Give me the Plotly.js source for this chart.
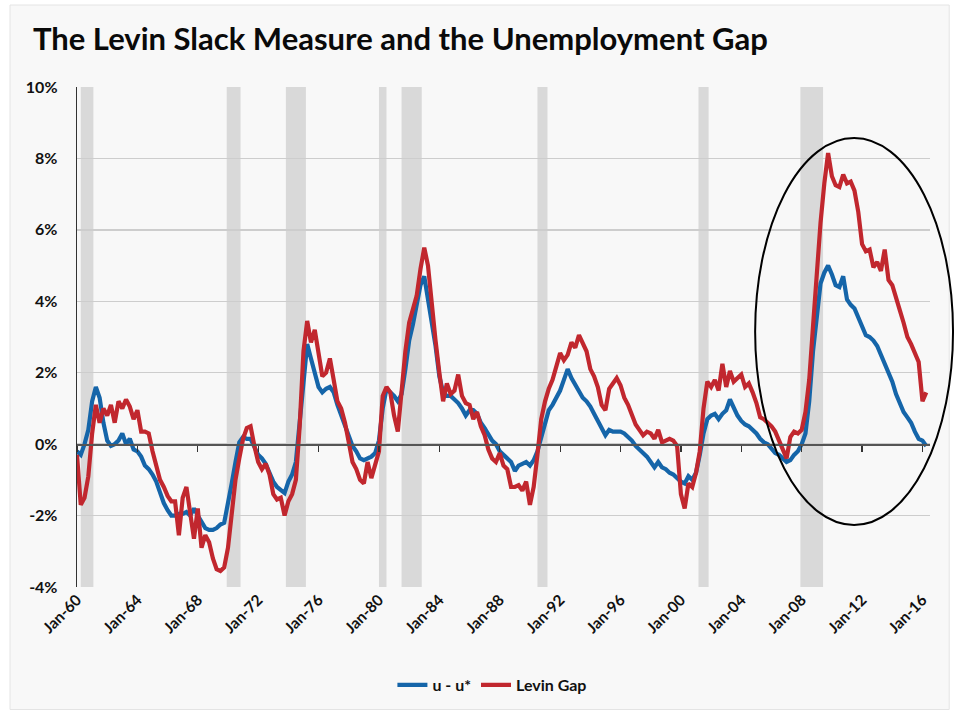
<!DOCTYPE html>
<html>
<head>
<meta charset="utf-8">
<script src="https://cdn.plot.ly/plotly-3.0.1.min.js"></script>
<style>
  html, body { margin: 0; padding: 0; background: #ffffff; }
  #chart { width: 956px; height: 714px; }
</style>
</head>
<body>
<div id="chart"></div>
<script>
// Quarterly observations, starting Jan-1960 (Jan, Apr, Jul, Oct of each year)
const startYear = 1960;

// u - u* (unemployment gap), percent
const uGap = [
  -0.2, -0.3, 0.0, 0.4,          // 1960
  1.2, 1.6, 1.3, 0.6,            // 1961
  0.1, -0.05, 0.0, 0.1,          // 1962
  0.3, 0.0, 0.15, -0.15,         // 1963
  -0.2, -0.35, -0.6, -0.7,       // 1964
  -0.85, -1.05, -1.35, -1.65,    // 1965
  -1.85, -2.0, -2.0, -1.95,      // 1966
  -1.95, -1.9, -2.0, -1.8,       // 1967
  -2.0, -2.15, -2.35, -2.4,      // 1968
  -2.4, -2.35, -2.25, -2.2,      // 1969
  -1.7, -1.1, -0.5, 0.05,        // 1970
  0.2, 0.15, 0.15, -0.05,        // 1971
  -0.3, -0.4, -0.55, -0.8,       // 1972
  -1.05, -1.2, -1.3, -1.37,      // 1973
  -1.05, -0.85, -0.5, 0.6,       // 1974
  2.0, 2.8, 2.4, 2.05,           // 1975
  1.6, 1.45, 1.55, 1.6,          // 1976
  1.45, 1.1, 0.8, 0.5,           // 1977
  0.2, -0.05, -0.2, -0.4,        // 1978
  -0.45, -0.4, -0.35, -0.25,     // 1979
  0.1, 1.0, 1.55, 1.45,          // 1980
  1.35, 1.2, 1.4, 2.1,           // 1981
  2.9, 3.35, 3.85, 4.45,         // 1982
  4.7, 4.1, 3.5, 2.75,           // 1983
  1.9, 1.45, 1.35, 1.35,         // 1984
  1.25, 1.15, 1.0, 0.8,          // 1985
  0.95, 0.95, 0.85, 0.6,         // 1986
  0.45, 0.3, 0.1, 0.0,           // 1987
  -0.2, -0.3, -0.4, -0.5,        // 1988
  -0.75, -0.6, -0.55, -0.5,      // 1989
  -0.6, -0.45, -0.2, 0.2,        // 1990
  0.6, 0.95, 1.1, 1.3,           // 1991
  1.5, 1.8, 2.1, 1.85,           // 1992
  1.65, 1.45, 1.3, 1.2,          // 1993
  1.05, 0.85, 0.65, 0.45,        // 1994
  0.25, 0.4, 0.35, 0.35,         // 1995
  0.35, 0.3, 0.2, 0.1,           // 1996
  -0.05, -0.15, -0.25, -0.35,    // 1997
  -0.5, -0.65, -0.5, -0.65,      // 1998
  -0.7, -0.8, -0.85, -0.95,      // 1999
  -1.05, -1.1, -0.9, -1.0,       // 2000
  -0.8, -0.3, 0.3, 0.7,          // 2001
  0.8, 0.85, 0.7, 0.85,          // 2002
  0.95, 1.25, 1.0, 0.8,          // 2003
  0.65, 0.55, 0.5, 0.4,          // 2004
  0.3, 0.15, 0.05, 0.0,          // 2005
  -0.15, -0.25, -0.3, -0.4,      // 2006
  -0.5, -0.45, -0.3, -0.2,       // 2007
  0.0, 0.3, 1.2, 2.6,            // 2008
  3.7, 4.5, 4.8, 5.0,            // 2009
  4.75, 4.45, 4.4, 4.7,          // 2010
  4.05, 3.9, 3.8, 3.55,          // 2011
  3.3, 3.05, 3.0, 2.9,           // 2012
  2.75, 2.5, 2.25, 2.0,          // 2013
  1.75, 1.4, 1.15, 0.9,          // 2014
  0.75, 0.6, 0.35, 0.15,         // 2015
  0.1, -0.05                     // 2016
];

// Levin Gap, percent
const levinGap = [
  -0.3, -1.7, -1.5, -0.9,        // 1960
  0.3, 1.1, 0.6, 1.0,            // 1961
  0.8, 1.1, 0.6, 1.2,            // 1962
  1.0, 1.25, 1.05, 0.7,          // 1963
  0.95, 0.35, 0.35, 0.3,         // 1964
  -0.2, -0.6, -1.0, -1.2,        // 1965
  -1.45, -1.6, -1.6, -2.55,      // 1966
  -1.5, -1.2, -2.0, -2.65,       // 1967
  -1.8, -2.9, -2.55, -2.75,      // 1968
  -3.2, -3.5, -3.55, -3.45,      // 1969
  -2.9, -1.9, -1.0, -0.4,        // 1970
  0.15, 0.45, 0.5, -0.05,        // 1971
  -0.5, -0.7, -0.55, -0.85,      // 1972
  -1.4, -1.55, -1.5, -2.0,       // 1973
  -1.6, -1.4, -1.0, 0.5,         // 1974
  2.6, 3.45, 2.85, 3.2,          // 1975
  2.5, 1.9, 2.0, 2.4,            // 1976
  1.8, 1.2, 1.0, 0.6,            // 1977
  0.05, -0.5, -0.7, -1.0,        // 1978
  -1.1, -0.5, -0.95, -0.6,       // 1979
  -0.2, 1.35, 1.6, 1.45,         // 1980
  0.8, 0.35, 1.5, 2.6,           // 1981
  3.4, 3.8, 4.15, 4.9,           // 1982
  5.5, 5.0, 3.9, 2.9,            // 1983
  2.0, 1.2, 1.7, 1.4,            // 1984
  1.5, 1.95, 1.35, 1.15,         // 1985
  1.1, 0.7, 0.9, 0.5,            // 1986
  0.25, -0.15, -0.4, -0.5,       // 1987
  -0.25, -0.6, -0.7, -1.2,       // 1988
  -1.2, -1.15, -1.3, -1.05,      // 1989
  -1.7, -1.2, -0.3, 0.7,         // 1990
  1.2, 1.55, 1.8, 2.2,           // 1991
  2.55, 2.35, 2.5, 2.85,         // 1992
  2.7, 3.05, 2.8, 2.6,           // 1993
  2.1, 1.9, 1.6, 1.1,            // 1994
  0.95, 1.55, 1.7, 1.85,         // 1995
  1.65, 1.3, 1.1, 0.8,           // 1996
  0.55, 0.4, 0.25, 0.35,         // 1997
  0.3, 0.15, 0.4, 0.05,          // 1998
  0.1, 0.15, 0.1, -0.05,         // 1999
  -1.4, -1.8, -1.1, -1.2,        // 2000
  -0.8, -0.2, 1.0, 1.75,         // 2001
  1.6, 1.8, 1.5, 2.25,           // 2002
  1.6, 2.05, 1.75, 1.85,         // 2003
  1.95, 1.6, 1.7, 1.45,          // 2004
  1.15, 0.75, 0.7, 0.6,          // 2005
  0.5, 0.35, 0.1, -0.1,          // 2006
  -0.4, 0.2, 0.35, 0.3,          // 2007
  0.4, 0.9, 1.8, 3.3,            // 2008
  4.8, 6.2, 7.3, 8.15,           // 2009
  7.5, 7.25, 7.2, 7.55,          // 2010
  7.3, 7.35, 7.1, 6.5,           // 2011
  5.6, 5.4, 5.45, 4.95,          // 2012
  5.1, 4.85, 5.45, 4.6,          // 2013
  4.45, 4.05, 3.75, 3.4,         // 2014
  3.0, 2.8, 2.55, 2.3,           // 2015
  1.2, 1.45                      // 2016
];

// NBER recessions (shaded)
const recessionStarts = ['1960-04-01','1969-12-01','1973-11-01','1980-01-01','1981-07-01','1990-07-01','2001-03-01','2007-12-01'];
const recessionEnds   = ['1961-02-01','1970-11-01','1975-03-01','1980-07-01','1982-11-01','1991-03-01','2001-11-01','2009-06-01'];

// Axis ticks
const yTickVals = [-4, -2, 0, 2, 4, 6, 8, 10];
const yTickText = ['-4%', '-2%', '0%', '2%', '4%', '6%', '8%', '10%'];

const seriesNames = ['u - u*', 'Levin Gap'];

// Build quarterly date list
const dates = [];
const months = ['01', '04', '07', '10'];
for (let i = 0; i < uGap.length; i++) {
  const y = startYear + Math.floor(i / 4);
  dates.push(y + '-' + months[i % 4] + '-01');
}

const BLUE = '#1565a9';
const RED = '#c1272e';
const FONT = 'Lato, "Open Sans", sans-serif';

const traces = [
  {
    x: dates, y: uGap, name: seriesNames[0], type: 'scatter', mode: 'lines',
    line: { color: BLUE, width: 4.2 }, hoverinfo: 'skip'
  },
  {
    x: dates, y: levinGap, name: seriesNames[1], type: 'scatter', mode: 'lines',
    line: { color: RED, width: 4.2 }, hoverinfo: 'skip'
  },
  {
    x: [], y: [], xaxis: 'x2', yaxis: 'y', type: 'scatter', mode: 'lines',
    showlegend: false, hoverinfo: 'skip'
  }
];

const shapes = [
  // panel background
  {
    type: 'rect', xref: 'paper', yref: 'paper',
    x0: -0.0785, x1: 1.0225, y0: -0.245, y1: 1.164,
    fillcolor: '#f8f8f8', line: { color: '#e4e4e4', width: 1 }, layer: 'below'
  }
];
for (let i = 0; i < recessionStarts.length; i++) {
  shapes.push({
    type: 'rect', xref: 'x', yref: 'paper',
    x0: recessionStarts[i], x1: recessionEnds[i], y0: 0, y1: 1,
    fillcolor: '#d9d9d9', line: { width: 0 }, layer: 'between'
  });
}
// highlight ellipse
shapes.push({
  type: 'circle', xref: 'paper', yref: 'paper',
  x0: 0.795, x1: 1.027, y0: 0.124, y1: 0.898,
  line: { color: '#000000', width: 2 }, fillcolor: 'rgba(0,0,0,0)', layer: 'above'
});

const xRange = ['1960-01-01', '2016-07-01'];

const layout = {
  width: 956, height: 714,
  margin: { l: 77, r: 26, t: 87, b: 127 },
  paper_bgcolor: '#ffffff',
  plot_bgcolor: 'rgba(0,0,0,0)',
  font: { family: FONT, color: '#111111' },
  title: {
    text: 'The Levin Slack Measure and the Unemployment Gap',
    font: { family: FONT, size: 31, weight: 700, color: '#0a0a0a' },
    xref: 'container', x: 0.0345, xanchor: 'left',
    yref: 'container', y: 0.945, yanchor: 'middle'
  },
  xaxis: {
    type: 'date', range: xRange,
    tick0: '1960-01-01', dtick: 'M48', tickformat: '%b-%y',
    tickangle: -45, showgrid: false, zeroline: false, showline: false,
    ticks: '', tickfont: { family: FONT, size: 15.5, weight: 700, color: '#111' }
  },
  xaxis2: {
    type: 'date', range: xRange, overlaying: 'x', anchor: 'free', position: 4 / 14,
    tick0: '1960-01-01', dtick: 'M48', showticklabels: false,
    showgrid: false, zeroline: false, showline: true, linecolor: '#555555', linewidth: 1.5,
    ticks: 'outside', ticklen: 6, tickwidth: 1.2, tickcolor: '#333333'
  },
  yaxis: {
    range: [-4, 10], tickvals: yTickVals, ticktext: yTickText,
    showgrid: true, gridcolor: '#cdcdcd', gridwidth: 1.3,
    zeroline: false, showline: true, linecolor: '#333333', linewidth: 1.3,
    ticks: 'outside', ticklen: 15, tickcolor: 'rgba(0,0,0,0)',
    tickfont: { family: FONT, size: 16, weight: 700, color: '#111' }
  },
  showlegend: true,
  legend: {
    orientation: 'h', x: 0.487, xanchor: 'center', y: -0.196, yanchor: 'middle',
    font: { family: FONT, size: 16, weight: 700, color: '#111' },
    bgcolor: 'rgba(0,0,0,0)', traceorder: 'normal', itemwidth: 30
  },
  shapes: shapes
};

Plotly.newPlot('chart', traces, layout, { staticPlot: true, displayModeBar: false });
</script>
</body>
</html>
